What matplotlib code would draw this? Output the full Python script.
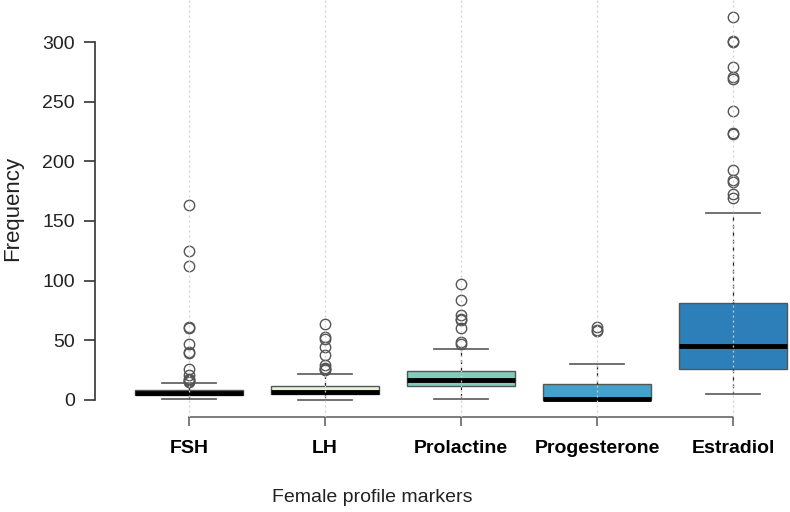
import numpy as np
import matplotlib
matplotlib.use("Agg")
from matplotlib import pyplot as plt

# values
markers = ["FSH", "LH", "Prolactine", "Progesterone", "Estradiol"]
q1 = [4, 5, 12, 0, 26]
med = [6, 6.5, 17, 0.5, 45]
q3 = [8.5, 12, 24.5, 13.5, 81.5]
whis_lo = [0.5, 0, 0.8, 0, 5]
whis_hi = [14.5, 22, 43, 30, 156.5]
fliers = [
    [163, 125, 112, 61, 60, 47, 40, 39, 26, 21, 18, 17, 16, 15],
    [64, 53, 51, 44, 38, 29, 27, 26, 25],
    [97, 84, 71, 68, 67, 60, 49, 47],
    [61, 59, 58],
    [321, 301, 300, 279, 271, 269, 242, 224, 223, 193, 184, 183, 173, 169],
]
colors = ["#f4fbee", "#e2f3dc", "#7fcdbb", "#43a2ca", "#2c7fb8"]
yticks = [0, 50, 100, 150, 200, 250, 300]

plt.rcParams['font.family'] = ['Liberation Sans', 'DejaVu Sans']

W, H = 790, 512
fig = plt.figure(figsize=(W / 100, H / 100), dpi=100)
# axes box in pixels: left 95, right 790, top 0, bottom 417
ax = fig.add_axes([95 / W, 1 - 417 / H, (W - 95) / W, 417 / H])

stats = []
for i in range(len(markers)):
    stats.append({
        "label": markers[i], "q1": q1[i], "med": med[i], "q3": q3[i],
        "whislo": whis_lo[i], "whishi": whis_hi[i], "fliers": fliers[i],
    })

pos = np.arange(1, len(markers) + 1)

# dotted guide lines at each marker
for p in pos:
    ax.axvline(p, color="#cfcfcf", lw=0.9, ls=(0, (1.5, 2.5)), zorder=3)

bp = ax.bxp(stats, positions=pos, widths=0.8, patch_artist=True,
            boxprops=dict(edgecolor="#555555", linewidth=1.0),
            medianprops=dict(color="black", linewidth=3.5),
            whiskerprops=dict(color="#222222", linewidth=0.9, linestyle=(0, (3, 3))),
            capprops=dict(color="#666666", linewidth=1.3),
            capwidths=0.4,
            flierprops=dict(marker="o", markerfacecolor="none", markeredgecolor="#555555",
                            markersize=7.5, markeredgewidth=1.0))
for patch, c in zip(bp["boxes"], colors):
    patch.set_facecolor(c)

ax.set_xlim(1 - 94 / 136, 5 + 57 / 136)
ax.set_ylim(-14.25, 335.2)

for s in ["top", "right"]:
    ax.spines[s].set_visible(False)
ax.spines["left"].set_bounds(0, 300)
ax.spines["bottom"].set_bounds(1, 5)
ax.spines["left"].set_color("#333333")
ax.spines["left"].set_linewidth(1.2)
ax.spines["bottom"].set_color("#666666")
ax.spines["bottom"].set_linewidth(1.2)

ax.set_yticks(yticks)
ax.set_yticklabels([str(v) for v in yticks])
ax.tick_params(axis="y", length=8, width=1.2, color="#333333", pad=6.5,
               labelsize=14, labelcolor="#222222")
ax.set_xticks(pos)
ax.set_xticklabels(markers, fontweight="bold", fontsize=14)
ax.tick_params(axis="x", length=6.5, width=1.2, color="#666666", pad=10)

fig.text(13 / W, 1 - 208 / H, "Frequency", rotation=90, ha="center", va="center",
         fontsize=16, color="#222222")
fig.text(372 / W, 1 - 497 / H, "Female profile markers", ha="center", va="center",
         fontsize=14, color="#222222")

fig.savefig("out.png", dpi=100)
